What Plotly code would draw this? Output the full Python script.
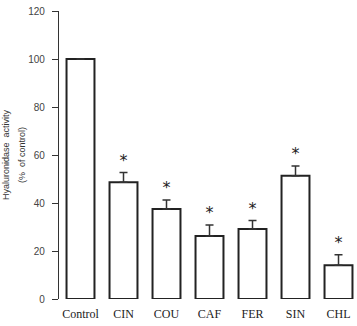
import plotly.graph_objects as go

categories = ["Control", "CIN", "COU", "CAF", "FER", "SIN", "CHL"]
activity = [100, 48.6, 37.5, 26.3, 29.2, 51.4, 14.1]
sem = [0, 4.1, 3.8, 4.5, 3.5, 4.0, 4.3]
significant = [False, True, True, True, True, True, True]
y_ticks = [0, 20, 40, 60, 80, 100, 120]
title_lines = ["Hyaluronidase  activity", "(%  of control)"]

star_gap = 4.5
star_x = [c for c, s in zip(categories, significant) if s]
star_y = [v + e + star_gap for v, e, s in zip(activity, sem, significant) if s]

fig = go.Figure()
fig.add_trace(go.Bar(
    x=categories, y=activity,
    width=0.65,
    marker=dict(color="white", line=dict(color="#222", width=2)),
    error_y=dict(type="data", array=sem, arrayminus=[0]*len(sem), symmetric=False,
                 color="#333", thickness=1.5, width=4),
    showlegend=False,
))
fig.add_trace(go.Scatter(
    x=star_x, y=star_y, mode="text", text=["*"] * len(star_x),
    textposition="middle center",
    textfont=dict(family="DejaVu Sans", size=16, color="#222"),
    showlegend=False,
))

for shift, line in zip([-53, -37], title_lines):
    fig.add_annotation(
        text=line, xref="paper", yref="paper", x=0, y=0.5,
        xanchor="center", yanchor="middle", xshift=shift, textangle=-90,
        showarrow=False,
        font=dict(family="Liberation Sans", size=9, color="#333"),
    )

fig.update_layout(
    width=357, height=326,
    margin=dict(l=59, r=0, t=11, b=27),
    plot_bgcolor="white", paper_bgcolor="white",
    bargap=0.35,
)
fig.update_xaxes(
    range=[-0.5, 6.43], showline=False, showgrid=False, zeroline=False,
    ticks="", ticklabelstandoff=6,
    tickfont=dict(family="Liberation Serif", size=12, color="#222"),
)
fig.update_yaxes(
    range=[0, 120], tickvals=y_ticks, showgrid=False, zeroline=False,
    showline=True, linecolor="#333", linewidth=1.2,
    ticks="outside", ticklen=6, tickcolor="#333", tickwidth=1.2,
    ticklabelstandoff=5,
    tickfont=dict(family="Liberation Sans", size=10, color="#444"),
)

fig.write_html("out.html")
